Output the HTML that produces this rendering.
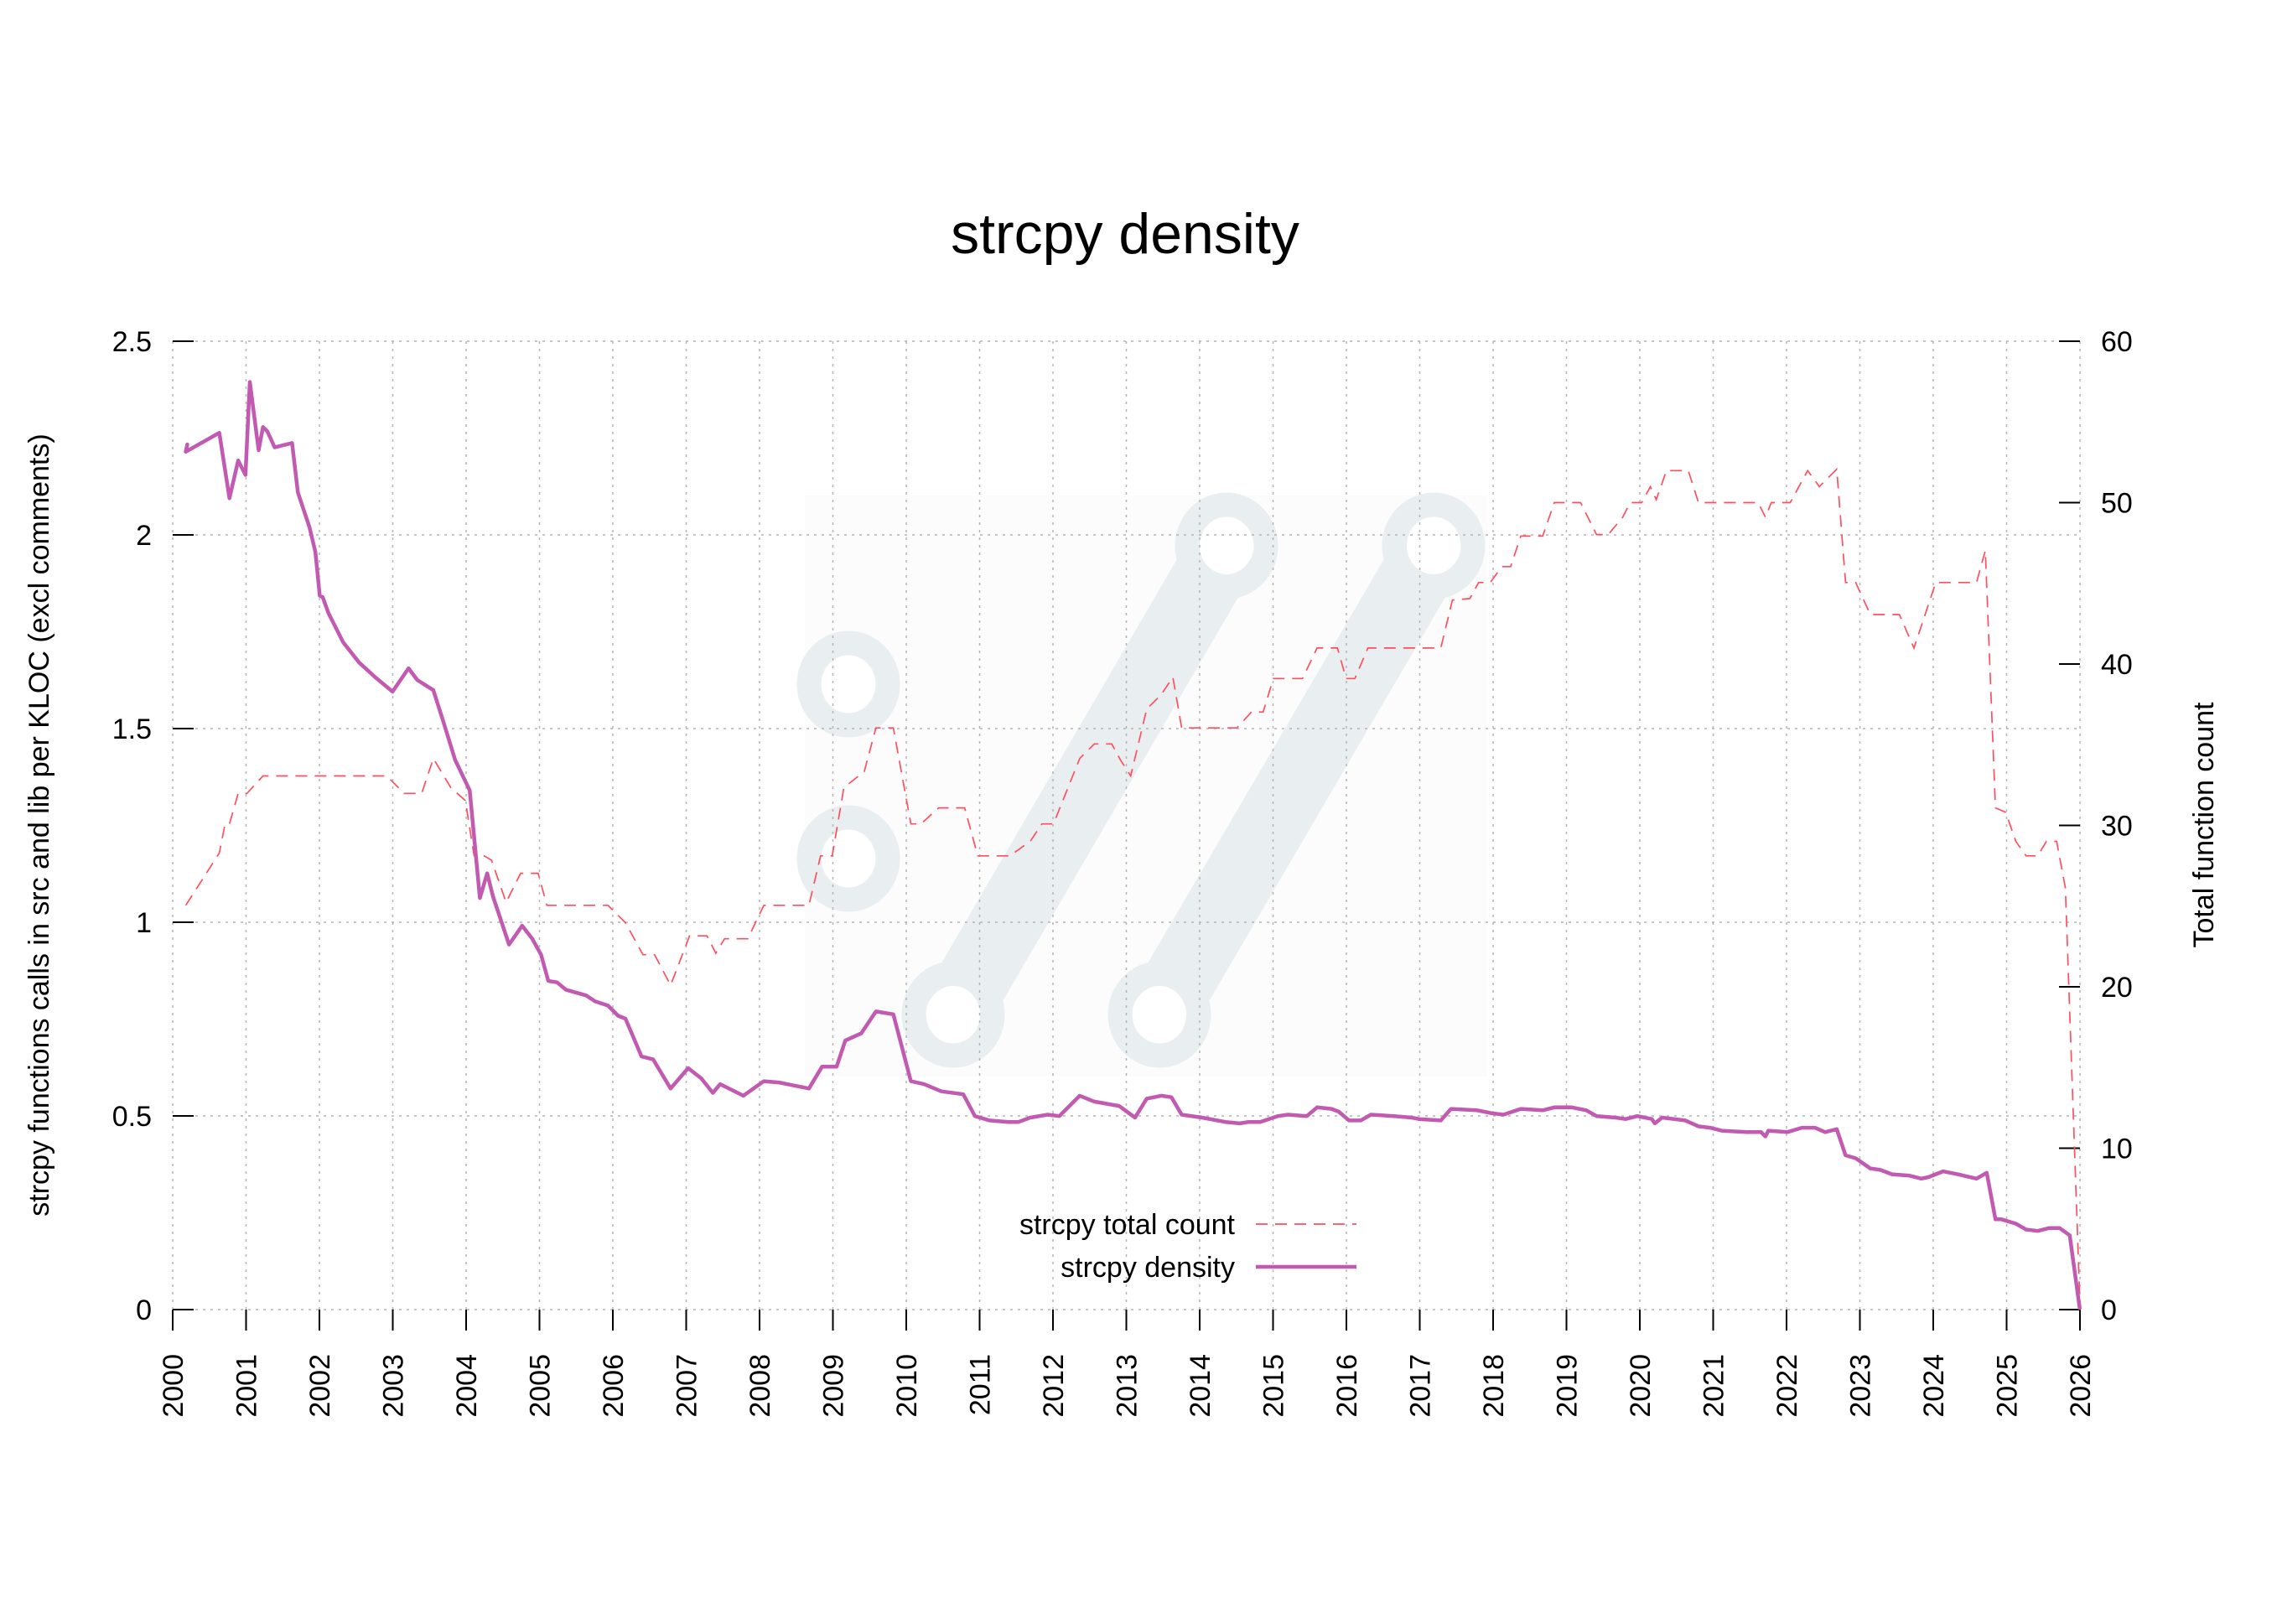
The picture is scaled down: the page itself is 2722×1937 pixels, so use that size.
<!DOCTYPE html>
<html><head><meta charset="utf-8"><style>
html,body{margin:0;padding:0;background:#fff}
svg{display:block}
text{font-family:"Liberation Sans",Arial,sans-serif;fill:#000}
</style></head><body>
<svg id="s" width="2722" height="1937" viewBox="0 0 2722 1937" xmlns="http://www.w3.org/2000/svg">
<rect width="2722" height="1937" fill="#fff"/>
<rect x="960" y="591" width="814" height="693" fill="#fcfcfc"/>
<g fill="none" stroke="#e9eef0">
<line x1="1137" y1="1210" x2="1463" y2="651" stroke-width="86"/>
<line x1="1383" y1="1210" x2="1710" y2="651" stroke-width="86"/>
<ellipse cx="1012" cy="816" rx="47" ry="49" stroke-width="29"/>
<ellipse cx="1012" cy="1024" rx="47" ry="49" stroke-width="29"/>
<ellipse cx="1137" cy="1210" rx="47" ry="49" stroke-width="29"/>
<ellipse cx="1463" cy="651" rx="47" ry="49" stroke-width="29"/>
<ellipse cx="1383" cy="1210" rx="47" ry="49" stroke-width="29"/>
<ellipse cx="1710" cy="651" rx="47" ry="49" stroke-width="29"/>
</g>
<g fill="#fff">
<ellipse cx="1012" cy="816" rx="32" ry="34"/>
<ellipse cx="1012" cy="1024" rx="32" ry="34"/>
<ellipse cx="1137" cy="1210" rx="32" ry="34"/>
<ellipse cx="1463" cy="651" rx="32" ry="34"/>
<ellipse cx="1383" cy="1210" rx="32" ry="34"/>
<ellipse cx="1710" cy="651" rx="32" ry="34"/>
</g>
<g id="grid" stroke="#b4b4b4" stroke-width="1.5" stroke-dasharray="3 6" fill="none"></g>
<g id="axes" stroke="#000" stroke-width="2" fill="none"></g>
<g id="labels" font-size="34"></g>
<path id="cnt" fill="none" stroke="#ff4f5e" stroke-width="1.7" stroke-dasharray="14 9"/>
<path id="den" fill="none" stroke="#c15ab0" stroke-width="4.5" stroke-linejoin="round"/>
<text x="1342" y="302" font-size="68" text-anchor="middle">strcpy density</text>
<text transform="translate(58,984) rotate(-90)" font-size="34" text-anchor="middle">strcpy functions calls in src and lib per KLOC (excl comments)</text>
<text transform="translate(2640,984) rotate(-90)" font-size="34" text-anchor="middle">Total function count</text>
<text x="1473" y="1472" font-size="34" text-anchor="end">strcpy total count</text>
<text x="1473" y="1523" font-size="34" text-anchor="end">strcpy density</text>
<line x1="1498" y1="1460" x2="1618" y2="1460" stroke="#ff4f5e" stroke-width="1.7" stroke-dasharray="14 9"/>
<line x1="1498" y1="1511" x2="1618" y2="1511" stroke="#c15ab0" stroke-width="4.5"/>
</svg>
<script>
(function(){
var NS="http://www.w3.org/2000/svg";
function el(p,t,a,txt){var e=document.createElementNS(NS,t);for(var k in a)e.setAttribute(k,a[k]);if(txt!==undefined)e.textContent=txt;document.getElementById(p).appendChild(e);}
var L=206,R=2481,T=407,B=1562;
for(var i=0;i<=26;i++){var x=L+(R-L)*i/26;
 if(i>0&&i<26)el("grid","line",{x1:x,y1:T,x2:x,y2:B});
 el("axes","line",{x1:x,y1:B,x2:x,y2:B+25});
 el("labels","text",{transform:"translate("+(x+12)+",1615) rotate(-90)","text-anchor":"end"},String(2000+i));}
el("grid","line",{x1:L,y1:T,x2:L,y2:B});el("grid","line",{x1:R,y1:T,x2:R,y2:B});
var lv=["0","0.5","1","1.5","2","2.5"];
for(var j=0;j<=5;j++){var y=B-(B-T)*j/5;
 el("grid","line",{x1:L,y1:y,x2:R,y2:y});
 el("axes","line",{x1:L,y1:y,x2:L+25,y2:y});
 el("labels","text",{x:181,y:y+12,"text-anchor":"end"},lv[j]);}
for(var k=0;k<=6;k++){var y2=B-(B-T)*k/6;
 el("axes","line",{x1:R-25,y1:y2,x2:R,y2:y2});
 el("labels","text",{x:2506,y:y2+12},String(k*10));}
function conv(a){var s="";for(var i=0;i<a.length;i+=2){var X=206+(a[i]-119)*1.7366,Y=407+(a[i+1]-234)*1.734;s+=(i?"L":"M")+X.toFixed(1)+","+Y.toFixed(1);}return s;}
var den=[128,310,129,305,128,310,151,297,158,342,164,316,169,326,172,262,178,309,181,293,184,296,189,307,201,304,205,338,213,362,217,379,220,409,222,410,226,421,230,429,236,441,247,455,258,465,270,475,281,459,287,467,298,474,305,496,313,522,323,543,330,617,335,600,339,616,350,649,359,636,366,645,372,656,377,674,383,675,389,680,403,684,409,688,418,691,425,698,430,700,441,726,449,728,461,748,473,734,482,741,490,751,495,745,511,753,525,743,536,744,556,748,565,733,575,733,581,715,592,710,602,695,614,697,626,743,635,745,647,750,662,752,670,767,680,770,693,771,700,771,708,768,720,766,728,767,742,753,752,757,769,760,780,768,788,755,798,753,805,754,812,766,826,768,842,771,852,772,858,771,866,771,878,767,885,766,898,767,905,761,915,762,920,764,927,770,935,770,942,766,958,767,970,768,975,769,990,770,997,762,1015,763,1025,765,1033,766,1045,762,1060,763,1068,761,1080,761,1090,763,1097,767,1110,768,1117,769,1125,767,1135,769,1137,772,1142,768,1150,769,1158,770,1167,774,1175,775,1183,777,1200,778,1210,778,1213,781,1215,777,1228,778,1238,775,1247,775,1254,778,1262,776,1268,794,1275,796,1285,803,1292,804,1300,807,1312,808,1320,810,1325,809,1335,805,1345,807,1358,810,1365,806,1371,838,1375,838,1385,841,1392,845,1400,846,1408,844,1415,844,1422,849,1429,900];
var cnt=[128,622,151,586,155,566,158,566,164,545,170,545,181,533,266,533,278,545,290,545,298,521,310,541,320,550,326,588,333,588,338,591,348,620,358,600,370,600,376,622,418,622,430,634,442,656,450,656,461,677,474,643,486,643,492,655,498,645,514,645,525,622,556,622,564,588,572,588,580,541,594,530,602,500,614,500,626,566,633,566,645,555,663,555,672,588,694,588,708,578,716,566,724,566,734,541,742,521,752,511,764,511,770,522,777,533,788,487,798,477,806,465,812,500,850,500,860,489,868,489,875,466,895,466,905,445,919,445,925,466,931,466,940,445,990,445,998,412,1010,411,1016,400,1024,400,1032,389,1038,389,1045,368,1060,368,1068,345,1086,345,1097,367,1105,367,1115,355,1120,345,1128,345,1134,334,1138,343,1145,323,1160,323,1167,345,1208,345,1213,355,1217,345,1230,345,1242,323,1250,334,1262,322,1268,400,1275,400,1285,422,1305,422,1315,445,1330,400,1358,400,1364,378,1371,555,1378,558,1385,578,1392,588,1400,588,1406,578,1413,578,1419,610,1429,895];
document.getElementById("den").setAttribute("d",conv(den));
document.getElementById("cnt").setAttribute("d",conv(cnt));
})();
</script>
</body></html>
